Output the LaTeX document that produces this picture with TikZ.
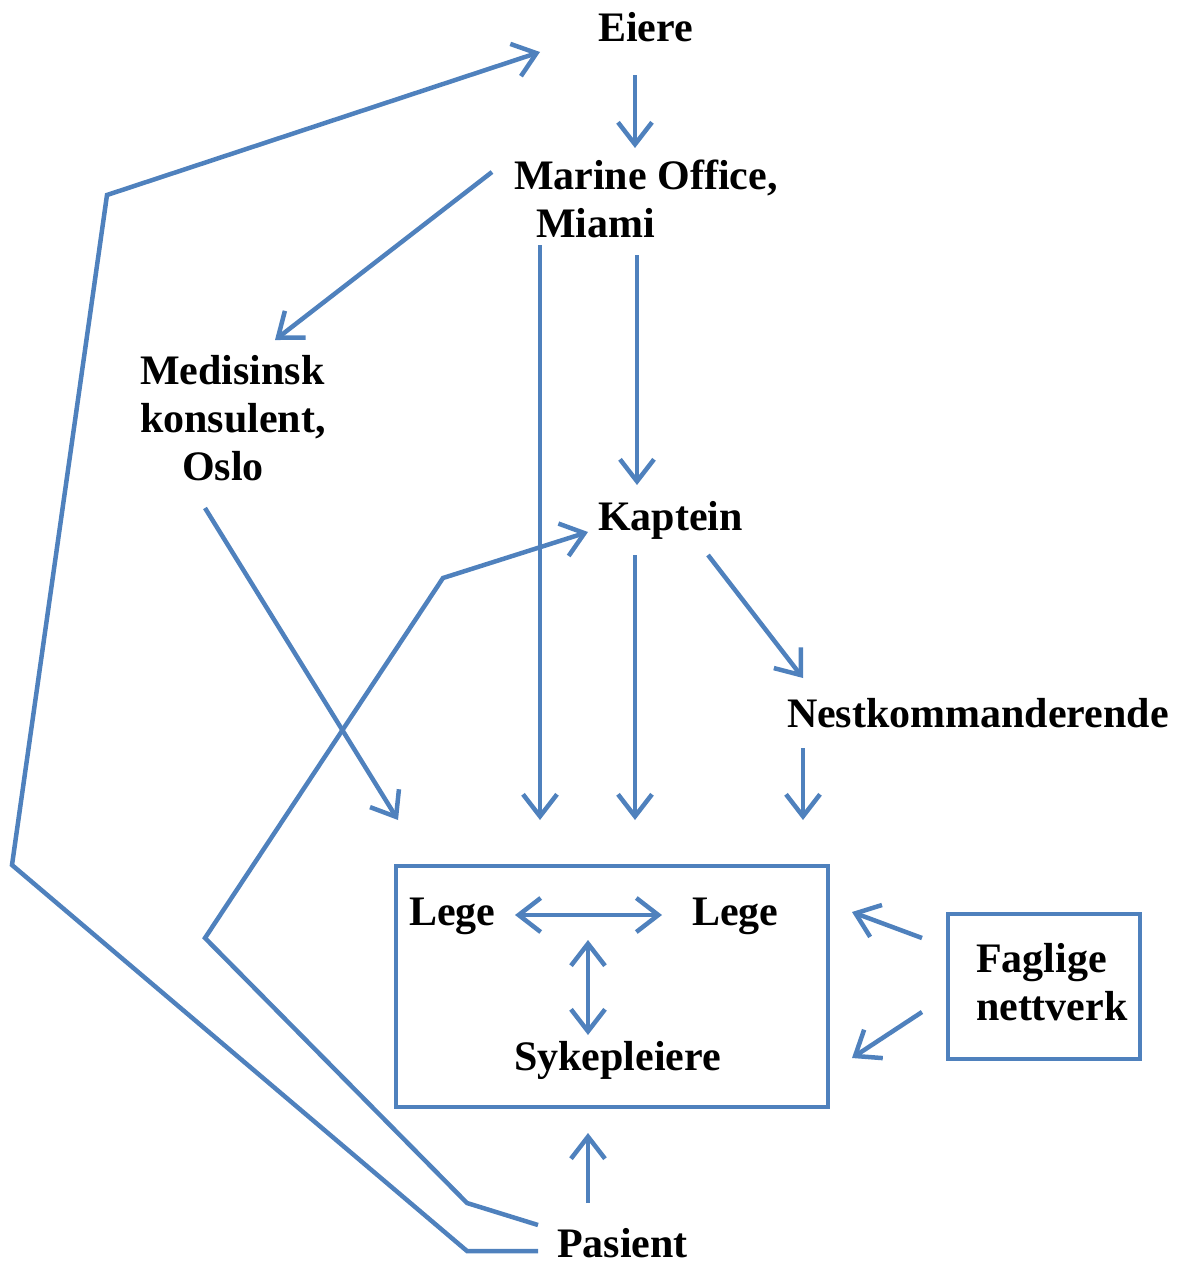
\documentclass[tikz,border=0pt]{standalone}
\usepackage{fontspec}
\setmainfont{Liberation Serif}
\usetikzlibrary{arrows.meta}
\definecolor{lineblue}{RGB}{79,129,189}
\tikzset{
  lbl/.style={inner sep=0pt, outer sep=0pt, font=\fontsize{42}{48}\selectfont\bfseries, text=black},
  conn/.style={draw=lineblue, line width=4.5pt, line join=miter},
  arr/.style={conn, -{Straight Barb[length=22pt, width=34pt, line width=4.5pt]}},
  darr/.style={conn, {Straight Barb[length=22pt, width=34pt, line width=4.5pt]}-{Straight Barb[length=22pt, width=34pt, line width=4.5pt]}},
  frame/.style={draw=lineblue, line width=4.5pt}
}
\begin{document}
\begin{tikzpicture}[x=1pt, y=-1pt]
\useasboundingbox (0,0) rectangle (1182,1269);
% text nodes
\node[lbl, anchor=base west] (eiere) at (598,41) {Eiere};
\node[lbl, anchor=base west] (marine) at (514,189) {\begin{tabular}[t]{@{}l@{}}Marine Office,\\\hspace*{22pt}Miami\end{tabular}};
\node[lbl, anchor=base west] (med) at (140,384) {\begin{tabular}[t]{@{}l@{}}Medisinsk\\konsulent,\\\hspace*{42pt}Oslo\end{tabular}};
\node[lbl, anchor=base west] (kaptein) at (598,530) {Kaptein};
\node[lbl, anchor=base west] (nest) at (787,727) {Nestkommanderende};
\node[lbl, anchor=base west] (lege1) at (409,925) {Lege};
\node[lbl, anchor=base west] (lege2) at (692,925) {Lege};
\node[lbl, anchor=base west] (syke) at (514,1070) {Sykepleiere};
\node[lbl, anchor=base west] (fag) at (976,972) {\begin{tabular}[t]{@{}l@{}}Faglige\\nettverk\end{tabular}};
\node[lbl, anchor=base west] (pasient) at (557,1257) {Pasient};
% boxes
\draw[frame] (396,866) rectangle (828,1107);
\draw[frame] (948,914) rectangle (1140,1059);
% connector endpoints
\coordinate (e1) at (635,75);   \coordinate (e2) at (635,148);
\coordinate (m1) at (492,172);  \coordinate (m2) at (275,340);
\coordinate (m3) at (540,245);  \coordinate (m4) at (540,820);
\coordinate (m5) at (637,255);  \coordinate (m6) at (637,485);
\coordinate (o1) at (205,508);  \coordinate (o2) at (398,820);
\coordinate (k1) at (635,555);  \coordinate (k2) at (635,820);
\coordinate (k3) at (708,555);  \coordinate (k4) at (803,678);
\coordinate (n1) at (803,748);  \coordinate (n2) at (803,820);
\coordinate (p1) at (588,1203); \coordinate (p2) at (588,1133);
\coordinate (f1) at (922,938);  \coordinate (f2) at (852,912);
\coordinate (f3) at (922,1012); \coordinate (f4) at (852,1058);
\coordinate (l1) at (515,915);  \coordinate (l2) at (662,915);
\coordinate (s1) at (588,940);  \coordinate (s2) at (588,1035);
% connectors
\draw[arr] (e1) -- (e2);
\draw[arr] (m1) -- (m2);
\draw[arr] (m3) -- (m4);
\draw[arr] (m5) -- (m6);
\draw[arr] (o1) -- (o2);
\draw[arr] (k1) -- (k2);
\draw[arr] (k3) -- (k4);
\draw[arr] (n1) -- (n2);
\draw[arr] (p1) -- (p2);
\draw[arr] (f1) -- (f2);
\draw[arr] (f3) -- (f4);
\draw[darr] (l1) -- (l2);
\draw[darr] (s1) -- (s2);
\coordinate (q1) at (538,1251);
\coordinate (q2) at (540,52);
\draw[arr] (q1) -- (467,1251) -- (12,865) -- (107,195) -- (q2);
\coordinate (r1) at (538,1225);
\coordinate (r2) at (588,532);
\draw[arr] (r1) -- (467,1203) -- (205,938) -- (443,578) -- (r2);
\end{tikzpicture}
\end{document}
